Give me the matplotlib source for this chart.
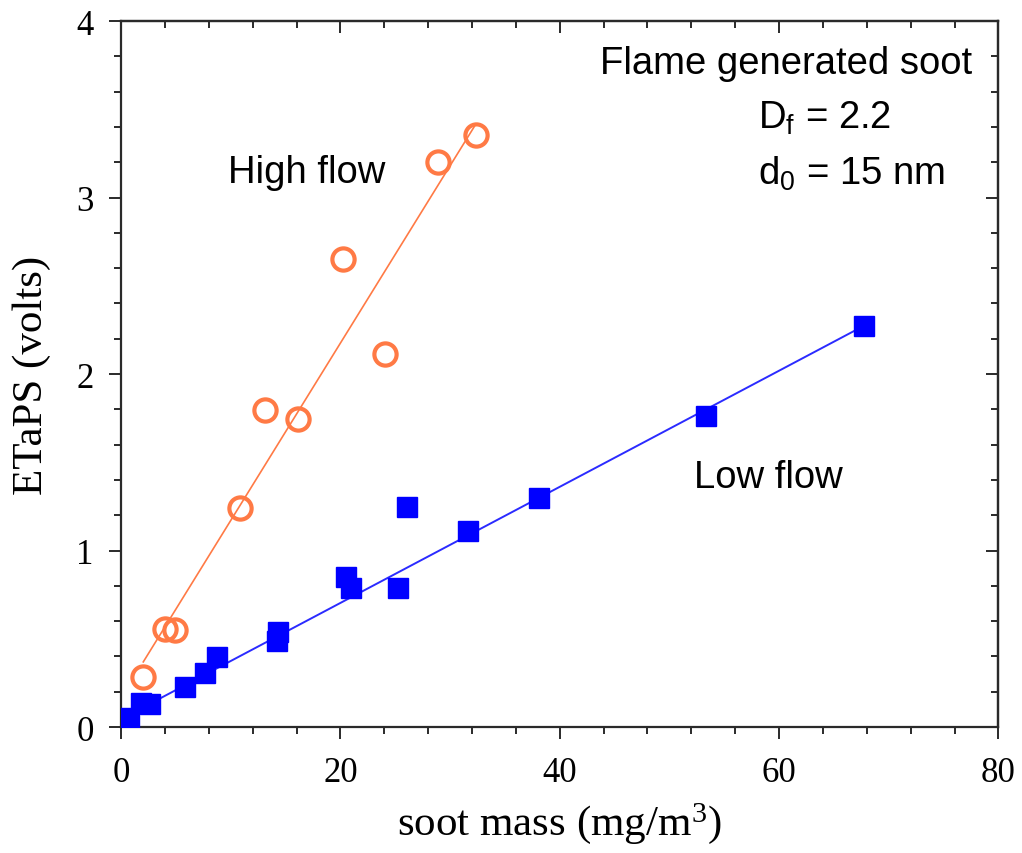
import numpy as np
import matplotlib
matplotlib.use("Agg")
import matplotlib.pyplot as plt
from matplotlib.ticker import MultipleLocator

# high flow (open circles)
high_x = [2.03, 4.01, 4.92, 10.85, 13.13, 16.16, 20.21, 24.07, 28.93, 32.33]
high_y = [0.285, 0.553, 0.549, 1.24, 1.796, 1.746, 2.65, 2.116, 3.2, 3.354]

# low flow (filled squares)
low_x = [0.76, 1.8, 2.64, 5.83, 7.66, 8.78, 14.19, 14.34, 20.48, 20.94,
         25.22, 26.1, 31.6, 38.13, 53.3, 67.7]
low_y = [0.052, 0.137, 0.133, 0.228, 0.307, 0.398, 0.486, 0.537, 0.85, 0.79,
         0.79, 1.244, 1.11, 1.30, 1.762, 2.272]

# fit lines as drawn (slope, intercept)
high_fit = (0.1005, 0.165)
low_fit = (0.0329, 0.045)

orange = "#FF7A45"
blue = "#0000FF"
sans = "Liberation Sans"

plt.rcParams["font.family"] = ["Liberation Serif"]
plt.rcParams["xtick.labelsize"] = 25
plt.rcParams["ytick.labelsize"] = 25

fig = plt.figure(figsize=(10.22, 8.54), dpi=100)
ax = fig.add_axes([0.1184, 0.1475, 0.8586, 0.8267])

xh = np.array([min(high_x), max(high_x)])
ax.plot(xh, high_fit[0] * xh + high_fit[1], color=orange, lw=1.2, zorder=2)
xl = np.array([min(low_x), max(low_x)])
ax.plot(xl, low_fit[0] * xl + low_fit[1], color="#2B2BFF", lw=1.4, zorder=2)

ax.plot(high_x, high_y, "o", ms=16, mfc="none", mec=orange, mew=3.0, zorder=3)
ax.plot(low_x, low_y, "s", ms=14.5, color=blue, mec=blue, zorder=3)

ax.set_xlim(0, 80)
ax.set_ylim(0, 4)
ax.xaxis.set_major_locator(MultipleLocator(20))
ax.xaxis.set_minor_locator(MultipleLocator(4))
ax.yaxis.set_major_locator(MultipleLocator(1))
ax.yaxis.set_minor_locator(MultipleLocator(0.2))

spine_c = "#2a2a2a"
for s in ax.spines.values():
    s.set_linewidth(1.6)
    s.set_color(spine_c)

ax.tick_params(which="both", direction="out", color=spine_c, width=1.4)
ax.tick_params(which="major", length=8.6)
ax.tick_params(which="minor", length=5)
ax.tick_params(axis="x", which="major", pad=12)
ax.tick_params(axis="y", which="major", pad=11)

# top and right ticks point inward
secx = ax.secondary_xaxis("top")
secx.xaxis.set_major_locator(MultipleLocator(20))
secx.xaxis.set_minor_locator(MultipleLocator(4))
secx.tick_params(which="both", direction="in", labeltop=False, color=spine_c, width=1.4)
secx.tick_params(which="major", length=8.6)
secx.tick_params(which="minor", length=5)
secx.spines["top"].set_linewidth(1.6)
secx.spines["top"].set_color(spine_c)

secy = ax.secondary_yaxis("right")
secy.yaxis.set_major_locator(MultipleLocator(1))
secy.yaxis.set_minor_locator(MultipleLocator(0.2))
secy.tick_params(which="both", direction="in", labelright=False, color=spine_c, width=1.4)
secy.tick_params(which="major", length=8.6)
secy.tick_params(which="minor", length=5)
secy.spines["right"].set_linewidth(1.6)
secy.spines["right"].set_color(spine_c)

ax.set_xlabel(r"soot mass $\mathregular{(mg/m^3)}$", fontsize=31, labelpad=8)
ax.set_ylabel("ETaPS (volts)", fontsize=31, labelpad=18)

ax.text(43.7, 3.705, "Flame generated soot", fontfamily=sans, fontsize=27.5,
        va="baseline", ha="left")
ax.text(58.05, 3.393, r"$\mathregular{D_f}$ = 2.2", fontfamily=sans,
        fontsize=27.5, va="baseline", ha="left")
ax.text(58.05, 3.079, r"$\mathregular{d_0}$ = 15 nm", fontfamily=sans,
        fontsize=27.5, va="baseline", ha="left")
ax.text(9.78, 3.09, "High flow", fontfamily=sans, fontsize=27.5,
        va="baseline", ha="left")
ax.text(52.2, 1.358, "Low flow", fontfamily=sans, fontsize=27.5,
        va="baseline", ha="left")

fig.savefig("out.png", dpi=100)
